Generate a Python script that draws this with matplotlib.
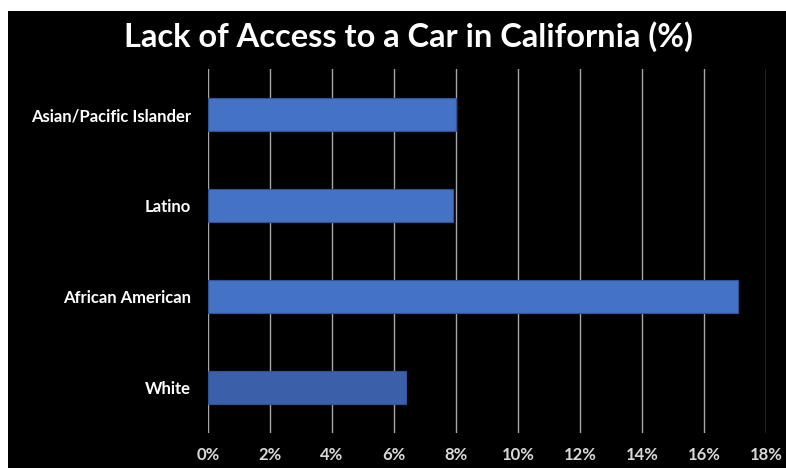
import matplotlib
matplotlib.use("Agg")
import matplotlib.pyplot as plt
import matplotlib.ticker as ticker
from matplotlib.patches import Rectangle

# Data (percent)
groups = ['White', 'African American', 'Latino', 'Asian/Pacific Islander']
share = [6.4, 17.1, 7.9, 8.0]
bar_colors = ['#3b5fa9', '#4472c4', '#4472c4', '#4472c4']
x_ticks = [0, 2, 4, 6, 8, 10, 12, 14, 16, 18]

plt.rcParams['font.family'] = ['Lato', 'DejaVu Sans']

fig = plt.figure(figsize=(7.86, 4.68), dpi=100, facecolor='white')
# black slide area (white margin at the top and left of the screenshot)
fig.patches.append(Rectangle((8 / 786, 0), 1, (468 - 11) / 468,
                             transform=fig.transFigure, facecolor='black',
                             edgecolor='none', zorder=-5))

ax = fig.add_axes([208 / 786, 35 / 468, 558 / 786, 364 / 468])
ax.set_facecolor('black')

ypos = list(range(len(groups)))
ax.barh(ypos, share, height=0.36, color=bar_colors,
        edgecolor='#2f5597', linewidth=0.8, zorder=2)

ax.set_xlim(0, 18)
ax.set_ylim(-0.5, len(groups) - 0.5)
ax.set_xticks(x_ticks)
ax.xaxis.set_major_formatter(ticker.FuncFormatter(lambda v, _: f'{v:.0f}%'))
ax.set_yticks(ypos)
ax.set_yticklabels(groups)

ax.grid(axis='x', color='#a6a6a6', linewidth=1.0, zorder=1)
ax.set_axisbelow(True)
for s in ax.spines.values():
    s.set_visible(False)

ax.tick_params(axis='x', length=0, pad=10, labelsize=12, labelcolor='#d9d9d9')
ax.tick_params(axis='y', length=0, pad=12, labelsize=12, labelcolor='white')
for lbl in ax.get_xticklabels() + ax.get_yticklabels():
    lbl.set_fontweight('bold')

fig.text(408 / 786, 1 - 47 / 468, 'Lack of Access to a Car in California (%)',
         ha='center', va='baseline', color='white', fontsize=23.5,
         fontweight='bold')

fig.savefig('out.png', dpi=100, facecolor=fig.get_facecolor())
